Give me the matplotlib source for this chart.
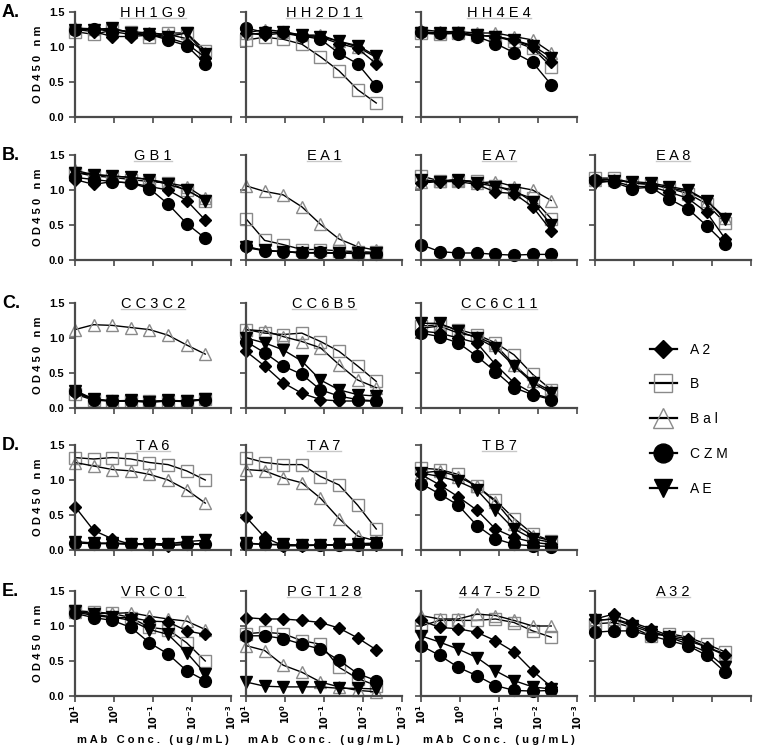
import numpy as np
import matplotlib
matplotlib.use("Agg")
import matplotlib.pyplot as plt
from matplotlib.lines import Line2D
from matplotlib.ticker import LogLocator, NullFormatter

plt.rcParams['font.family'] = ['Liberation Sans', 'DejaVu Sans']

# 3-fold dilutions of mAb, ug/mL
conc = [10, 3.33, 1.11, 0.370, 0.123, 0.0412, 0.0137, 0.00457]
series = ['A2', 'B', 'Bal', 'CZM', 'AE']

# OD450 for each panel, rows follow `series`
hh1g9 = [[1.25, 1.22, 1.15, 1.15, 1.17, 1.13, 1.05, 0.85],
         [1.22, 1.18, 1.24, 1.22, 1.15, 1.20, 1.20, 0.95],
         [1.27, 1.26, 1.25, 1.22, 1.20, 1.18, 1.12, 0.92],
         [1.25, 1.26, 1.22, 1.18, 1.18, 1.10, 1.02, 0.76],
         [1.25, 1.25, 1.27, 1.20, 1.18, 1.15, 1.20, 0.90]]
hh2d11 = [[1.20, 1.17, 1.20, 1.15, 1.14, 1.05, 0.98, 0.76],
          [1.10, 1.14, 1.11, 1.04, 0.86, 0.66, 0.39, 0.20],
          [1.20, 1.25, 1.22, 1.17, 1.17, 1.08, 1.00, 0.85],
          [1.27, 1.21, 1.21, 1.16, 1.11, 0.91, 0.76, 0.44],
          [1.18, 1.20, 1.21, 1.17, 1.15, 1.08, 1.02, 0.87]]
hh4e4 = [[1.20, 1.20, 1.20, 1.17, 1.15, 1.10, 1.00, 0.78],
         [1.20, 1.18, 1.20, 1.17, 1.15, 1.08, 0.98, 0.72],
         [1.25, 1.22, 1.22, 1.20, 1.20, 1.15, 1.10, 0.92],
         [1.22, 1.20, 1.19, 1.15, 1.05, 0.92, 0.78, 0.46],
         [1.20, 1.20, 1.20, 1.17, 1.15, 1.10, 1.02, 0.85]]
gb1 = [[1.15, 1.08, 1.12, 1.10, 1.05, 1.00, 0.85, 0.57],
       [1.25, 1.20, 1.18, 1.15, 1.12, 1.10, 1.00, 0.85],
       [1.28, 1.22, 1.20, 1.18, 1.15, 1.10, 1.05, 0.88],
       [1.18, 1.15, 1.12, 1.10, 1.02, 0.80, 0.52, 0.31],
       [1.25, 1.22, 1.20, 1.18, 1.15, 1.08, 1.00, 0.85]]
ea1 = [[0.18, 0.13, 0.12, 0.11, 0.10, 0.10, 0.10, 0.10],
       [0.59, 0.28, 0.22, 0.15, 0.15, 0.13, 0.12, 0.11],
       [1.06, 0.98, 0.93, 0.76, 0.51, 0.30, 0.19, 0.14],
       [0.20, 0.13, 0.12, 0.10, 0.11, 0.10, 0.09, 0.09],
       [0.18, 0.14, 0.12, 0.10, 0.10, 0.10, 0.10, 0.10]]
ea7 = [[1.10, 1.12, 1.12, 1.08, 0.97, 0.95, 0.76, 0.42],
       [1.20, 1.13, 1.13, 1.13, 1.06, 0.97, 0.88, 0.59],
       [1.12, 1.13, 1.15, 1.10, 1.12, 1.05, 1.00, 0.85],
       [0.22, 0.12, 0.10, 0.10, 0.08, 0.07, 0.08, 0.08],
       [1.15, 1.12, 1.15, 1.10, 1.05, 1.00, 0.83, 0.50]]
ea8 = [[1.12, 1.13, 1.05, 1.05, 0.97, 0.88, 0.68, 0.30],
       [1.17, 1.17, 1.10, 1.08, 1.02, 0.95, 0.80, 0.53],
       [1.15, 1.15, 1.10, 1.08, 1.03, 0.98, 0.85, 0.60],
       [1.15, 1.11, 1.02, 1.04, 0.87, 0.73, 0.49, 0.23],
       [1.10, 1.13, 1.12, 1.10, 1.05, 1.00, 0.85, 0.58]]
cc3c2 = [[0.22, 0.12, 0.10, 0.10, 0.09, 0.10, 0.10, 0.12],
         [0.20, 0.11, 0.10, 0.10, 0.10, 0.10, 0.10, 0.13],
         [1.12, 1.19, 1.18, 1.15, 1.12, 1.04, 0.90, 0.77],
         [0.24, 0.12, 0.10, 0.10, 0.08, 0.10, 0.09, 0.12],
         [0.25, 0.13, 0.10, 0.11, 0.09, 0.11, 0.10, 0.13]]
cc6b5 = [[0.81, 0.60, 0.36, 0.21, 0.12, 0.10, 0.10, 0.10],
         [1.12, 1.07, 1.05, 1.07, 0.95, 0.81, 0.60, 0.38],
         [1.12, 1.10, 1.02, 0.95, 0.86, 0.62, 0.40, 0.29],
         [0.95, 0.79, 0.60, 0.48, 0.26, 0.17, 0.12, 0.10],
         [1.00, 0.93, 0.83, 0.67, 0.40, 0.26, 0.19, 0.17]]
cc6c11 = [[1.10, 1.07, 1.00, 0.93, 0.62, 0.36, 0.21, 0.13],
          [1.17, 1.19, 1.12, 1.05, 0.93, 0.76, 0.48, 0.26],
          [1.14, 1.17, 1.07, 1.02, 0.90, 0.62, 0.38, 0.24],
          [1.07, 1.02, 0.93, 0.74, 0.52, 0.29, 0.19, 0.12],
          [1.21, 1.21, 1.10, 1.00, 0.86, 0.60, 0.36, 0.21]]
ta6 = [[0.62, 0.28, 0.16, 0.08, 0.08, 0.06, 0.08, 0.08],
       [1.32, 1.30, 1.32, 1.30, 1.25, 1.22, 1.13, 1.00],
       [1.25, 1.20, 1.15, 1.13, 1.08, 1.00, 0.86, 0.67],
       [0.10, 0.09, 0.09, 0.08, 0.08, 0.08, 0.09, 0.09],
       [0.12, 0.10, 0.10, 0.09, 0.09, 0.09, 0.12, 0.14]]
ta7 = [[0.47, 0.18, 0.06, 0.06, 0.07, 0.07, 0.07, 0.07],
       [1.32, 1.25, 1.22, 1.22, 1.05, 0.93, 0.64, 0.30],
       [1.15, 1.13, 1.03, 0.96, 0.74, 0.45, 0.20, 0.13],
       [0.09, 0.08, 0.07, 0.07, 0.07, 0.07, 0.07, 0.08],
       [0.10, 0.08, 0.08, 0.07, 0.07, 0.08, 0.09, 0.10]]
tb7 = [[1.08, 0.93, 0.76, 0.57, 0.30, 0.18, 0.11, 0.08],
       [1.17, 1.15, 1.08, 0.91, 0.71, 0.45, 0.23, 0.13],
       [1.10, 1.13, 1.05, 0.91, 0.69, 0.37, 0.20, 0.13],
       [0.95, 0.80, 0.64, 0.35, 0.16, 0.08, 0.06, 0.05],
       [1.10, 1.05, 0.98, 0.86, 0.57, 0.30, 0.16, 0.11]]
vrc01 = [[1.20, 1.15, 1.12, 1.12, 1.07, 1.06, 0.93, 0.88],
         [1.22, 1.20, 1.18, 1.12, 0.98, 0.95, 0.76, 0.50],
         [1.20, 1.18, 1.18, 1.19, 1.14, 1.10, 1.07, 0.95],
         [1.18, 1.12, 1.08, 0.98, 0.76, 0.60, 0.36, 0.22],
         [1.22, 1.17, 1.13, 1.08, 0.95, 0.88, 0.62, 0.32]]
pgt128 = [[1.12, 1.10, 1.10, 1.08, 1.05, 0.97, 0.83, 0.66],
          [0.89, 0.91, 0.89, 0.79, 0.74, 0.41, 0.25, 0.15],
          [0.72, 0.65, 0.44, 0.34, 0.20, 0.13, 0.08, 0.06],
          [0.86, 0.86, 0.82, 0.74, 0.67, 0.51, 0.32, 0.22],
          [0.20, 0.14, 0.13, 0.13, 0.13, 0.11, 0.11, 0.10]]
mab_447_52d = [[1.08, 0.98, 0.96, 0.91, 0.79, 0.63, 0.36, 0.13],
               [1.00, 1.08, 1.08, 1.08, 1.10, 1.05, 0.93, 0.84],
               [1.15, 1.10, 1.10, 1.17, 1.15, 1.08, 1.00, 1.00],
               [0.72, 0.58, 0.41, 0.29, 0.15, 0.08, 0.07, 0.08],
               [0.86, 0.77, 0.67, 0.55, 0.36, 0.22, 0.13, 0.10]]
a32 = [[1.10, 1.17, 1.05, 0.96, 0.86, 0.82, 0.70, 0.58],
       [1.03, 1.05, 0.98, 0.86, 0.89, 0.84, 0.74, 0.63],
       [1.08, 1.10, 1.03, 0.93, 0.84, 0.79, 0.70, 0.60],
       [0.91, 0.93, 0.93, 0.86, 0.79, 0.72, 0.58, 0.34],
       [1.08, 1.10, 1.00, 0.91, 0.84, 0.74, 0.63, 0.41]]

# (title, data, row, col)
panels = [('HH1G9', hh1g9, 0, 0), ('HH2D11', hh2d11, 0, 1), ('HH4E4', hh4e4, 0, 2),
          ('GB1', gb1, 1, 0), ('EA1', ea1, 1, 1), ('EA7', ea7, 1, 2), ('EA8', ea8, 1, 3),
          ('CC3C2', cc3c2, 2, 0), ('CC6B5', cc6b5, 2, 1), ('CC6C11', cc6c11, 2, 2),
          ('TA6', ta6, 3, 0), ('TA7', ta7, 3, 1), ('TB7', tb7, 3, 2),
          ('VRC01', vrc01, 4, 0), ('PGT128', pgt128, 4, 1), ('447-52D', mab_447_52d, 4, 2),
          ('A32', a32, 4, 3)]
row_labels = ['A.', 'B.', 'C.', 'D.', 'E.']
xtick_labels = ['$\\mathbf{10^{1}}$', '$\\mathbf{10^{0}}$', '$\\mathbf{10^{-1}}$',
                '$\\mathbf{10^{-2}}$', '$\\mathbf{10^{-3}}$']

gray = '#8a8a8a'
styles = {'A2': dict(marker='D', ms=6, mfc='black', mec='black'),
          'B': dict(marker='s', ms=8, mfc='none', mec=gray),
          'Bal': dict(marker='^', ms=9, mfc='none', mec=gray),
          'CZM': dict(marker='o', ms=8.5, mfc='black', mec='black'),
          'AE': dict(marker='v', ms=8.5, mfc='black', mec='black')}
draw_order = ['B', 'Bal', 'A2', 'AE', 'CZM']

W, H = 760, 750
lefts = [75, 246, 421, 595]
tops = [12, 155, 303, 445, 591]
aw, ah = 156, 105

fig = plt.figure(figsize=(W / 100, H / 100), dpi=100)
spaced = lambda s: ' '.join(s)
titles = []

for title, data, r, c in panels:
    ax = fig.add_axes([lefts[c] / W, 1 - (tops[r] + ah) / H, aw / W, ah / H])
    for name in draw_order:
        vals = data[series.index(name)]
        ax.plot(conc, vals, color='black', lw=1, mew=1, clip_on=False, **styles[name])
    ax.set_xscale('log')
    ax.set_xlim(10, 1e-3)
    ax.set_ylim(0, 1.5)
    ax.set_yticks([0, 0.5, 1.0, 1.5])
    ax.set_xticks([10, 1, 0.1, 0.01, 0.001])
    ax.xaxis.set_minor_locator(LogLocator(base=10, subs=np.arange(2, 10)))
    ax.xaxis.set_minor_formatter(NullFormatter())
    for side in ['top', 'right']:
        ax.spines[side].set_visible(False)
    for side in ['left', 'bottom']:
        ax.spines[side].set_linewidth(1.6)
        ax.spines[side].set_color('#4a4a4a')
    ax.tick_params(which='major', length=4, width=1.2, color='#4a4a4a')
    ax.tick_params(which='minor', length=2, width=0.8, color='#4a4a4a')
    if c == 0:
        ax.set_yticklabels(['0.0', '0.5', '1.0', '1.5'], fontsize=8, fontweight='bold')
        ax.set_ylabel(spaced('OD450') + '   ' + spaced('nm'), fontsize=8, fontweight='bold', labelpad=4)
    else:
        ax.set_yticklabels([])
    if r == 4 and c < 3:
        ax.set_xticklabels(xtick_labels, rotation=90, fontsize=7)
        ax.tick_params(axis='x', which='major', pad=2)
        ax.set_xlabel('m A b   C o n c .   ( u g / m L )', fontsize=8, fontweight='bold', labelpad=4)
    else:
        ax.set_xticklabels([])
    t = ax.text(0.5, 0.955, spaced(title), transform=ax.transAxes, ha='center',
                va='baseline', fontsize=10.5)
    titles.append(t)

for r, lab in enumerate(row_labels):
    fig.text(2 / W, 1 - (tops[r] - 8) / H, lab, fontsize=13, fontweight='bold', va='top')

handles = [Line2D([], [], color='black', lw=1.6, marker=styles[n]['marker'],
                  ms=styles[n]['ms'] * 1.6, mfc=styles[n]['mfc'], mec=styles[n]['mec'], mew=1)
           for n in series]
fig.legend(handles, [spaced(n) for n in series], loc='upper left',
           bbox_to_anchor=(637 / W, 1 - 330 / H), frameon=False, fontsize=10,
           handlelength=2.0, labelspacing=1.5, handletextpad=0.9)

# thin gray underline below each panel title
fig.canvas.draw()
rend = fig.canvas.get_renderer()
for t in titles:
    bb = t.get_window_extent(rend)
    y = (bb.y0 + 1.5) / H
    fig.add_artist(Line2D([bb.x0 / W, bb.x1 / W], [y, y], transform=fig.transFigure,
                          color='#c8c8c8', lw=1))

fig.savefig('out.png', dpi=100)
